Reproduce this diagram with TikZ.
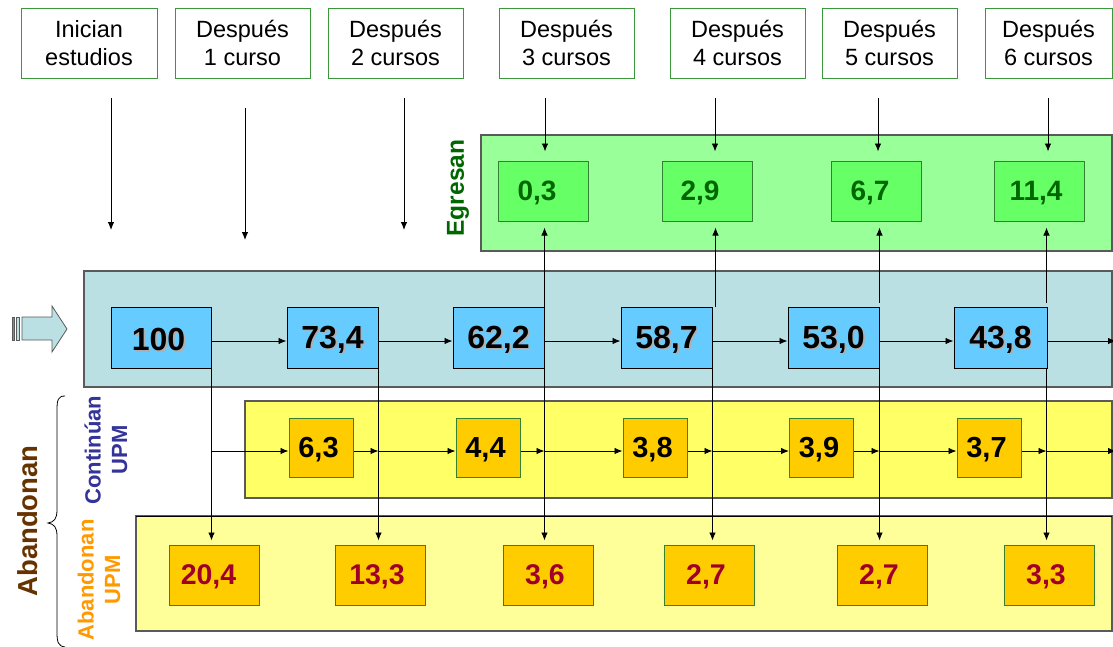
\documentclass[tikz,border=0pt]{standalone}
\usepackage{fontspec}
\setmainfont{Liberation Sans}
\usetikzlibrary{arrows.meta,calc}
\definecolor{hdrgreen}{RGB}{60,150,60}
\definecolor{egout}{RGB}{153,255,153}
\definecolor{egin}{RGB}{102,255,102}
\definecolor{egtext}{RGB}{0,102,0}
\definecolor{egborder}{RGB}{51,130,51}
\definecolor{blueout}{RGB}{187,224,227}
\definecolor{bluebox}{RGB}{102,204,255}
\definecolor{yelout}{RGB}{255,255,102}
\definecolor{ltyel}{RGB}{255,255,153}
\definecolor{orbox}{RGB}{255,204,0}
\definecolor{redtxt}{RGB}{160,0,40}
\definecolor{conttxt}{RGB}{51,51,153}
\definecolor{abupm}{RGB}{255,153,0}
\definecolor{brownlbl}{RGB}{102,51,0}
\definecolor{shadowgray}{RGB}{175,175,175}
\definecolor{framegray}{RGB}{90,90,90}
\newcommand{\shtxt}[1]{\rule{0pt}{28pt}\rlap{\hspace{1.8pt}\raisebox{-1.8pt}{\textcolor{shadowgray}{#1}}}#1}
\newcommand{\lefttxt}[2]{\rule{0pt}{24pt}#2\hspace*{#1}}
\begin{document}
\begin{tikzpicture}[x=1pt,y=-1pt,
  hdr/.style={draw=hdrgreen, line width=1pt, fill=white, minimum width=136pt, minimum height=70pt, align=center, inner sep=0pt, font=\fontsize{23.5}{27.5}\selectfont},
  panel/.style={draw=framegray, line width=1.3pt},
  egbox/.style={draw=egborder, line width=1pt, fill=egin, minimum width=90pt, minimum height=60pt, inner sep=0pt, text=egtext, font=\bfseries\fontsize{28}{28}\selectfont},
  bbox/.style={draw=black, line width=1pt, fill=bluebox, minimum width=91pt, minimum height=61pt, inner sep=0pt, font=\bfseries\fontsize{32}{32}\selectfont},
  obox/.style={draw=egborder, line width=1pt, fill=orbox, minimum width=64pt, minimum height=59pt, inner sep=0pt, font=\bfseries\fontsize{29}{29}\selectfont},
  rbox/.style={draw=egborder, line width=1pt, fill=orbox, minimum width=90pt, minimum height=60pt, inner sep=0pt, text=redtxt, font=\bfseries\fontsize{28.5}{28.5}\selectfont},
  arr/.style={line width=0.9pt, -{Latex[length=8pt,width=6.5pt]}},
  lbl/.style={rotate=90, align=center, inner sep=0pt, font=\bfseries\fontsize{22}{26.5}\selectfont}
]
\useasboundingbox (0,0) rectangle (1113,646);
\fill[white] (0,0) rectangle (1113,646);

% headers
\node[hdr] (h1) at (89,43) {Inician\\estudios};
\node[hdr, minimum width=135pt] (h2) at (242.5,43) {Después\\1 curso};
\node[hdr, minimum width=135pt] (h3) at (395.5,43) {Después\\2 cursos};
\node[hdr, minimum width=135pt] (h4) at (566.5,43) {Después\\3 cursos};
\node[hdr, minimum width=135pt] (h5) at (737.5,43) {Después\\4 cursos};
\node[hdr, minimum width=135pt] (h6) at (889.5,43) {Después\\5 cursos};
\node[hdr, minimum width=127pt] (h7) at (1048.5,43) {Después\\6 cursos};

% panels
\draw[panel, fill=egout] (481,135) rectangle (1112,251);
\draw[panel, fill=blueout] (84,271) rectangle (1112,387);
\draw[panel, fill=yelout] (245,401) rectangle (1112,498);
\draw[panel, fill=ltyel] (136,516) rectangle (1112,631);
\draw[black, line width=0.8pt] (136,516) -- (1112,516);

% Egresan boxes
\node[egbox] (g1) at (543,191) {\lefttxt{12pt}{0,3}};
\node[egbox] (g2) at (707,191) {\lefttxt{14pt}{2,9}};
\node[egbox] (g3) at (876,191) {\lefttxt{12pt}{6,7}};
\node[egbox] (g4) at (1039,191) {\lefttxt{6pt}{11,4}};

% main blue boxes
\node[bbox, minimum width=100pt] (b0) at (161,337.5) {\shtxt{100}\hspace*{5pt}};
\node[bbox] (b1) at (332.5,337.5) {\shtxt{73,4}};
\node[bbox] (b2) at (498.5,337.5) {\shtxt{62,2}};
\node[bbox] (b3) at (666.5,337.5) {\shtxt{58,7}};
\node[bbox] (b4) at (833.5,337.5) {\shtxt{53,0}};
\node[bbox, minimum width=93pt] (b5) at (1000.5,337.5) {\shtxt{43,8}};

% Continúan UPM boxes
\node[obox] (o1) at (321,447.5) {\lefttxt{5pt}{6,3}};
\node[obox] (o2) at (488,447.5) {\lefttxt{5pt}{4,4}};
\node[obox] (o3) at (655,447.5) {\lefttxt{5pt}{3,8}};
\node[obox] (o4) at (821.5,447.5) {\lefttxt{5pt}{3,9}};
\node[obox] (o5) at (989,447.5) {\lefttxt{5pt}{3,7}};

% Abandonan UPM boxes
\node[rbox] (a0) at (214,575) {\lefttxt{11pt}{20,4}};
\node[rbox] (a1) at (380,575) {\lefttxt{6pt}{13,3}};
\node[rbox] (a2) at (548,575) {\lefttxt{6pt}{3,6}};
\node[rbox] (a3) at (709,575) {\lefttxt{6pt}{2,7}};
\node[rbox] (a4) at (882,575) {\lefttxt{6pt}{2,7}};
\node[rbox] (a5) at (1049,575) {\lefttxt{6pt}{3,3}};

% labels
\node[rotate=90, inner sep=0pt, text=egtext, font=\bfseries\fontsize{24.5}{24.5}\selectfont] (leg) at (458,188) {Egresan};
\node[lbl, text=conttxt] (lcont) at (106,450) {Continúan\\UPM};
\node[lbl, text=abupm] (laban) at (99,580) {Abandonan\\UPM};
\node[rotate=90, inner sep=0pt, text=brownlbl, font=\bfseries\fontsize{27.5}{27.5}\selectfont] (lab) at (28,521) {Abandonan};

% brace
\draw[line width=0.8pt] (65,396) .. controls (58,396) and (57,400) .. (57,410) -- (57,510) .. controls (57,519) and (54,522) .. (48,523) .. controls (54,524) and (57,527) .. (57,536) -- (57,632) .. controls (57,642) and (58,646) .. (65,647);

% input arrow
\draw[fill=blueout, draw=framegray, line width=0.8pt] (22,317) -- (52,317) -- (52,306) -- (67,329) -- (52,352) -- (52,340) -- (22,340) -- cycle;
\draw[fill=framegray!70, draw=framegray, line width=0.6pt] (12,317) rectangle (14,340);
\draw[fill=blueout, draw=framegray, line width=0.6pt] (16,317) rectangle (19.5,340);

% free arrows from headers
\coordinate (t1) at (111,98); \coordinate (e1) at (111,230);
\coordinate (t2) at (245,108); \coordinate (e2) at (245,240);
\coordinate (t3) at (404,98); \coordinate (e3) at (404,230);
\coordinate (t4) at (545,98);
\coordinate (t5) at (715,98);
\coordinate (t6) at (878,98);
\coordinate (t7) at (1048,98);
\draw[arr] (t1) -- (e1);
\draw[arr] (t2) -- (e2);
\draw[arr] (t3) -- (e3);
\draw[arr, shorten >=9pt] (t4) -- (t4 |- g1.north);
\draw[arr, shorten >=9pt] (t5) -- (t5 |- g2.north);
\draw[arr, shorten >=9pt] (t6) -- (t6 |- g3.north);
\draw[arr, shorten >=9pt] (t7) -- (t7 |- g4.north);

% main row arrows
\coordinate (r1) at (0,341);
\coordinate (r2) at (0,451);
\coordinate (endA) at (1116,341);
\coordinate (endB) at (1116,451);
\draw[arr] (b0.east |- r1) -- (b1.west |- r1);
\draw[arr] (b1.east |- r1) -- (b2.west |- r1);
\draw[arr] (b2.east |- r1) -- (b3.west |- r1);
\draw[arr] (b3.east |- r1) -- (b4.west |- r1);
\draw[arr] (b4.east |- r1) -- (b5.west |- r1);
\draw[arr] (b5.east |- r1) -- (endA);

% up arrows to Egresan
\draw[arr, shorten >=6pt] (b2.north east) -- (b2.north east |- g1.south);
\draw[arr, shorten >=6pt] ([xshift=3pt]b3.north east) -- ([xshift=3pt]b3.north east |- g2.south);
\draw[arr, shorten >=6pt] ([yshift=4pt]b4.north east) -- (b4.north east |- g3.south);
\draw[arr, shorten >=6pt] ([yshift=4pt,xshift=-1pt]b5.north east) -- ([xshift=-1pt]b5.north east |- g4.south);

% down arrows to Abandonan UPM
\draw[arr, shorten >=4pt] (b0.south east) -- (b0.south east |- a0.north);
\draw[arr, shorten >=4pt] (b1.south east) -- (b1.south east |- a1.north);
\draw[arr, shorten >=4pt] (b2.south east) -- (b2.south east |- a2.north);
\draw[arr, shorten >=4pt] (b3.south east) -- (b3.south east |- a3.north);
\draw[arr, shorten >=4pt] (b4.south east) -- (b4.south east |- a4.north);
\draw[arr, shorten >=4pt] ([xshift=-1pt]b5.south east) -- ([xshift=-1pt]b5.south east |- a5.north);

% Continúan row arrows
\draw[arr] (b0.east |- r2) -- (o1.west |- r2);
\draw[arr] (o1.east |- r2) -- (b1.east |- r2);
\draw[arr] (b1.east |- r2) -- (o2.west |- r2);
\draw[arr] (o2.east |- r2) -- (b2.east |- r2);
\draw[arr] (b2.east |- r2) -- (o3.west |- r2);
\draw[arr] (o3.east |- r2) -- (b3.east |- r2);
\draw[arr] (b3.east |- r2) -- (o4.west |- r2);
\draw[arr] (o4.east |- r2) -- (b4.east |- r2);
\draw[arr] (b4.east |- r2) -- (o5.west |- r2);
\draw[arr] (o5.east |- r2) -- ([xshift=-1pt]b5.east |- r2);
\draw[arr] ([xshift=-1pt]b5.east |- r2) -- (endB);
\end{tikzpicture}
\end{document}
